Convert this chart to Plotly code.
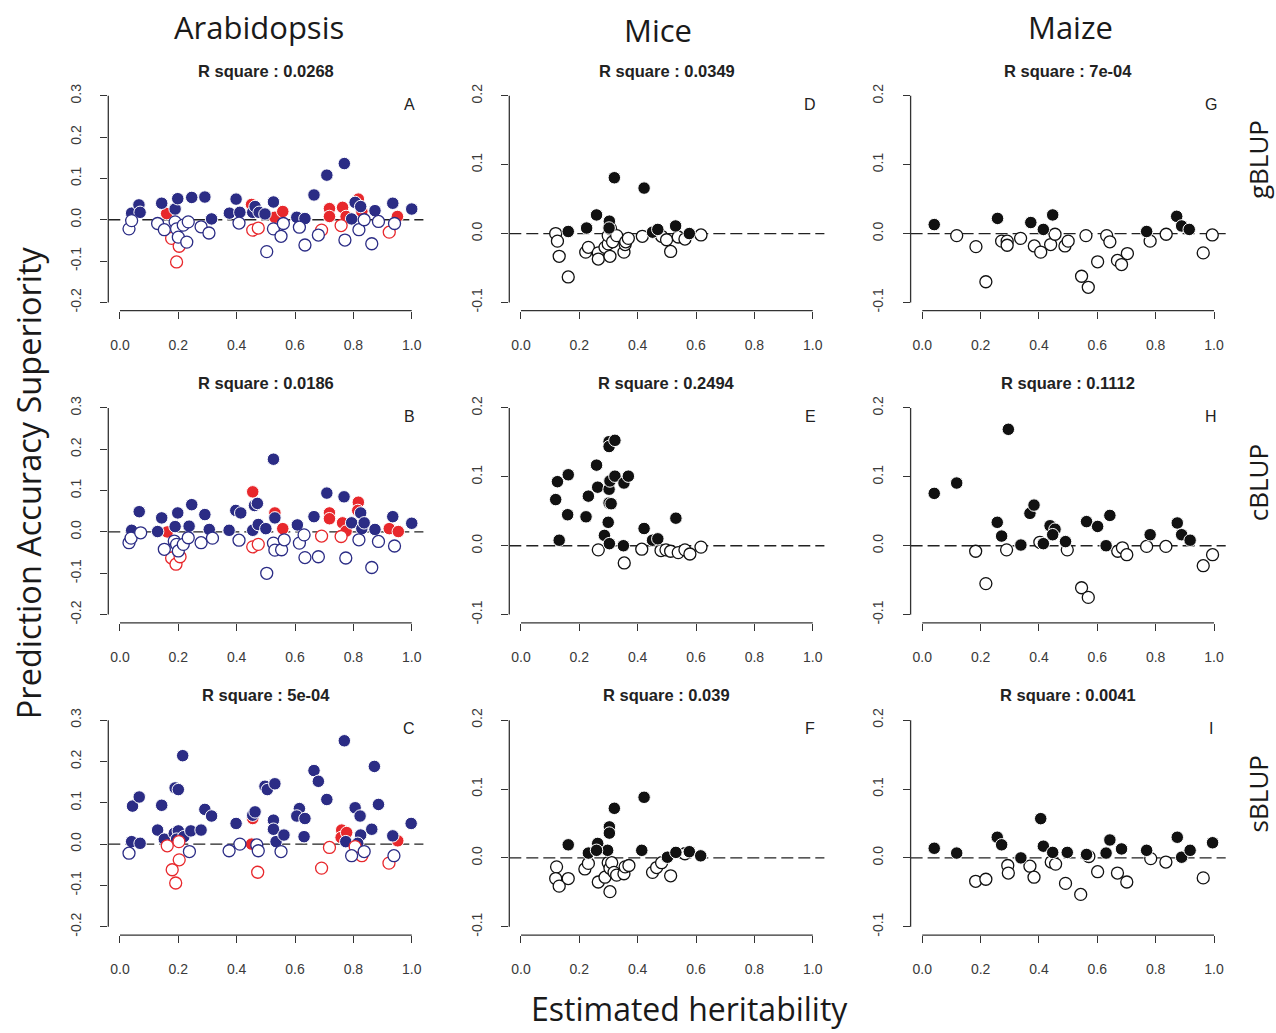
import plotly.graph_objects as go

# ---------------- data ----------------
species = ["Arabidopsis", "Mice", "Maize"]
methods = ["gBLUP", "cBLUP", "sBLUP"]
panel_letters = [["A", "D", "G"], ["B", "E", "H"], ["C", "F", "I"]]
r_square = [["0.0268", "0.0349", "7e-04"],
            ["0.0186", "0.2494", "0.1112"],
            ["5e-04", "0.039", "0.0041"]]
x_tick_vals = [0.0, 0.2, 0.4, 0.6, 0.8, 1.0]
x_tick_text = ["0.0", "0.2", "0.4", "0.6", "0.8", "1.0"]
ara_y_vals = [-0.2, -0.1, 0.0, 0.1, 0.2, 0.3]
ara_y_text = ["-0.2", "-0.1", "0.0", "0.1", "0.2", "0.3"]
mm_y_vals = [-0.1, 0.0, 0.1, 0.2]
mm_y_text = ["-0.1", "0.0", "0.1", "0.2"]
x_title = "Estimated heritability"
y_title = "Prediction Accuracy Superiority"

# Panel A (Arabidopsis, gBLUP)
A_blue_fill_h = [0.040, 0.065, 0.069, 0.143, 0.189, 0.198, 0.246, 0.291, 0.314, 0.375, 0.398, 0.411, 0.455, 0.463,
                 0.477, 0.497, 0.526, 0.606, 0.634, 0.665, 0.709, 0.769, 0.794, 0.806, 0.825, 0.874, 0.935, 1.000]
A_blue_fill_v = [0.016, 0.036, 0.018, 0.040, 0.026, 0.051, 0.054, 0.055, 0.002, 0.016, 0.050, 0.018, 0.018, 0.032,
                 0.018, 0.014, 0.043, 0.006, 0.003, 0.060, 0.108, 0.136, 0.002, 0.042, 0.032, 0.022, 0.040, 0.026]
A_red_fill_h = [0.160, 0.451, 0.531, 0.558, 0.718, 0.718, 0.763, 0.775, 0.817, 0.829, 0.951]
A_red_fill_v = [0.015, 0.037, 0.006, 0.020, 0.027, 0.008, 0.030, 0.008, 0.050, 0.020, 0.008]
A_blue_open_h = [0.031, 0.040, 0.129, 0.152, 0.189, 0.194, 0.200, 0.217, 0.234, 0.229, 0.278, 0.305, 0.408, 0.526,
                 0.560, 0.552, 0.503, 0.615, 0.634, 0.680, 0.771, 0.819, 0.837, 0.863, 0.886, 0.941]
A_blue_open_v = [-0.022, -0.002, -0.009, -0.024, -0.005, -0.022, -0.042, -0.013, -0.005, -0.054, -0.017, -0.032,
                 -0.008, -0.022, -0.009, -0.040, -0.077, -0.018, -0.061, -0.037, -0.049, -0.024, 0.000, -0.058,
                 -0.004, -0.009]
A_red_open_h = [0.177, 0.203, 0.194, 0.455, 0.474, 0.691, 0.758, 0.923]
A_red_open_v = [-0.045, -0.064, -0.102, -0.025, -0.020, -0.025, -0.014, -0.030]

# Panel B (Arabidopsis, cBLUP)
B_blue_fill_h = [0.040, 0.066, 0.129, 0.143, 0.189, 0.198, 0.237, 0.246, 0.291, 0.306, 0.374, 0.397, 0.414, 0.455,
                 0.461, 0.471, 0.474, 0.500, 0.526, 0.531, 0.608, 0.665, 0.709, 0.768, 0.794, 0.825, 0.829, 0.837,
                 0.874, 0.935, 1.000]
B_blue_fill_v = [0.004, 0.049, 0.001, 0.034, 0.013, 0.046, 0.014, 0.066, 0.042, 0.006, 0.004, 0.052, 0.046, 0.004,
                 0.064, 0.069, 0.018, 0.008, 0.176, 0.034, 0.017, 0.037, 0.094, 0.085, 0.022, 0.046, 0.008, 0.022,
                 0.006, 0.037, 0.021]
B_red_fill_h = [0.162, 0.455, 0.531, 0.558, 0.718, 0.718, 0.763, 0.775, 0.817, 0.815, 0.923, 0.954]
B_red_fill_v = [0.000, 0.097, 0.046, 0.008, 0.046, 0.032, 0.022, 0.002, 0.072, 0.052, 0.008, 0.001]
B_blue_open_h = [0.031, 0.038, 0.071, 0.152, 0.186, 0.194, 0.200, 0.217, 0.234, 0.278, 0.317, 0.408, 0.526, 0.531,
                 0.554, 0.563, 0.503, 0.615, 0.631, 0.634, 0.680, 0.774, 0.819, 0.863, 0.886, 0.941]
B_blue_open_v = [-0.026, -0.015, -0.002, -0.042, -0.022, -0.030, -0.046, -0.030, -0.014, -0.026, -0.015, -0.020,
                 -0.027, -0.044, -0.043, -0.019, -0.100, -0.027, -0.007, -0.062, -0.060, -0.063, -0.019, -0.086,
                 -0.023, -0.034]
B_red_open_h = [0.177, 0.192, 0.206, 0.455, 0.474, 0.691, 0.758]
B_red_open_v = [-0.063, -0.078, -0.060, -0.036, -0.030, -0.010, -0.011]

# Panel C (Arabidopsis, sBLUP)
C_blue_fill_h = [0.040, 0.043, 0.066, 0.069, 0.129, 0.143, 0.152, 0.186, 0.189, 0.200, 0.200, 0.194, 0.215, 0.219,
                 0.243, 0.278, 0.291, 0.314, 0.398, 0.455, 0.463, 0.497, 0.505, 0.531, 0.526, 0.526, 0.535, 0.562,
                 0.615, 0.606, 0.634, 0.631, 0.665, 0.680, 0.709, 0.769, 0.774, 0.806, 0.823, 0.825, 0.863, 0.872,
                 0.886, 0.935, 0.998, 0.815]
C_blue_fill_v = [0.006, 0.092, 0.114, 0.002, 0.034, 0.094, 0.012, 0.026, 0.136, 0.132, 0.032, 0.012, 0.214, 0.018,
                 0.032, 0.034, 0.084, 0.068, 0.050, 0.070, 0.078, 0.140, 0.132, 0.146, 0.058, 0.036, 0.006, 0.022,
                 0.086, 0.068, 0.062, 0.018, 0.178, 0.152, 0.108, 0.250, 0.006, 0.088, 0.068, 0.022, 0.036, 0.188,
                 0.096, 0.020, 0.050, 0.002]
C_red_fill_h = [0.455, 0.451, 0.760, 0.758, 0.777, 0.952]
C_red_fill_v = [0.062, 0.000, 0.034, 0.016, 0.028, 0.008]
C_blue_open_h = [0.031, 0.238, 0.374, 0.411, 0.469, 0.474, 0.552, 0.794, 0.837, 0.939]
C_blue_open_v = [-0.022, -0.018, -0.016, 0.000, -0.002, -0.016, -0.018, -0.028, -0.018, -0.028]
C_red_open_h = [0.162, 0.179, 0.191, 0.203, 0.202, 0.472, 0.691, 0.718, 0.829, 0.806, 0.922]
C_red_open_v = [-0.004, -0.062, -0.094, -0.038, 0.006, -0.068, -0.058, -0.008, -0.028, -0.006, -0.046]

# Panel D (Mice, gBLUP)
D_fill_h = [0.162, 0.225, 0.259, 0.303, 0.302, 0.320, 0.422, 0.451, 0.469, 0.530, 0.577]
D_fill_v = [0.003, 0.008, 0.027, 0.018, 0.008, 0.081, 0.066, 0.002, 0.006, 0.011, 0.000]
D_open_h = [0.119, 0.125, 0.131, 0.162, 0.222, 0.231, 0.265, 0.265, 0.288, 0.299, 0.305, 0.299, 0.307, 0.314,
            0.328, 0.353, 0.357, 0.359, 0.368, 0.416, 0.482, 0.499, 0.513, 0.539, 0.562, 0.617]
D_open_v = [0.000, -0.011, -0.033, -0.063, -0.027, -0.020, -0.028, -0.037, -0.020, -0.015, -0.033, -0.003, 0.007,
            -0.012, -0.003, -0.027, -0.016, -0.012, -0.007, -0.004, -0.004, -0.009, -0.026, -0.005, -0.008, -0.002]

# Panel E (Mice, cBLUP)
E_fill_h = [0.119, 0.125, 0.131, 0.162, 0.160, 0.223, 0.231, 0.259, 0.263, 0.286, 0.299, 0.302, 0.302, 0.302,
            0.302, 0.305, 0.303, 0.309, 0.322, 0.322, 0.353, 0.368, 0.351, 0.422, 0.451, 0.469, 0.531]
E_fill_v = [0.067, 0.093, 0.008, 0.103, 0.045, 0.042, 0.072, 0.117, 0.085, 0.015, 0.034, 0.151, 0.144, 0.082,
            0.062, 0.094, 0.003, 0.061, 0.153, 0.101, 0.091, 0.101, 0.000, 0.025, 0.008, 0.010, 0.040]
E_open_h = [0.265, 0.354, 0.414, 0.480, 0.497, 0.513, 0.539, 0.562, 0.579, 0.617]
E_open_v = [-0.006, -0.025, -0.005, -0.007, -0.006, -0.008, -0.010, -0.006, -0.012, -0.002]

# Panel F (Mice, sBLUP)
F_fill_h = [0.162, 0.231, 0.263, 0.297, 0.303, 0.303, 0.320, 0.414, 0.422, 0.502, 0.531, 0.577, 0.616, 0.259]
F_fill_v = [0.019, 0.007, 0.021, 0.011, 0.045, 0.036, 0.072, 0.011, 0.088, 0.001, 0.008, 0.009, 0.003, 0.011]
F_open_h = [0.122, 0.119, 0.131, 0.162, 0.219, 0.231, 0.265, 0.288, 0.299, 0.305, 0.305, 0.311, 0.319, 0.328,
            0.353, 0.357, 0.370, 0.451, 0.465, 0.482, 0.513, 0.562]
F_open_v = [-0.013, -0.030, -0.041, -0.030, -0.016, -0.008, -0.035, -0.028, -0.007, -0.015, -0.049, -0.007,
            -0.021, -0.025, -0.023, -0.013, -0.011, -0.021, -0.014, -0.007, -0.026, 0.006]

# Panel G (Maize, gBLUP)
G_fill_h = [0.041, 0.258, 0.372, 0.415, 0.447, 0.769, 0.872, 0.889, 0.915]
G_fill_v = [0.013, 0.022, 0.016, 0.006, 0.027, 0.003, 0.025, 0.011, 0.006]
G_open_h = [0.118, 0.184, 0.218, 0.272, 0.291, 0.291, 0.337, 0.384, 0.406, 0.440, 0.455, 0.489, 0.500, 0.546,
            0.561, 0.569, 0.601, 0.632, 0.643, 0.669, 0.683, 0.703, 0.781, 0.836, 0.963, 0.994]
G_open_v = [-0.003, -0.019, -0.070, -0.011, -0.011, -0.017, -0.007, -0.018, -0.027, -0.016, -0.001, -0.018,
            -0.011, -0.062, -0.003, -0.078, -0.041, -0.003, -0.012, -0.039, -0.045, -0.029, -0.011, -0.001,
            -0.028, -0.002]

# Panel H (Maize, cBLUP)
H_fill_h = [0.041, 0.118, 0.257, 0.272, 0.295, 0.338, 0.369, 0.383, 0.415, 0.438, 0.455, 0.447, 0.491, 0.563,
            0.601, 0.630, 0.643, 0.781, 0.874, 0.889, 0.918]
H_fill_v = [0.076, 0.091, 0.034, 0.014, 0.169, 0.001, 0.047, 0.059, 0.003, 0.029, 0.024, 0.016, 0.006, 0.035,
            0.028, 0.000, 0.044, 0.016, 0.033, 0.016, 0.008]
H_open_h = [0.183, 0.218, 0.289, 0.403, 0.497, 0.546, 0.569, 0.670, 0.686, 0.701, 0.769, 0.835, 0.963, 0.995]
H_open_v = [-0.008, -0.055, -0.006, 0.005, -0.006, -0.061, -0.075, -0.008, -0.003, -0.013, -0.001, -0.001,
            -0.029, -0.013]

# Panel I (Maize, sBLUP)
I_fill_h = [0.041, 0.118, 0.257, 0.272, 0.338, 0.406, 0.415, 0.447, 0.497, 0.563, 0.630, 0.643, 0.683, 0.769,
            0.874, 0.889, 0.918, 0.995]
I_fill_v = [0.014, 0.007, 0.030, 0.019, 0.000, 0.057, 0.017, 0.008, 0.008, 0.005, 0.007, 0.026, 0.013, 0.011,
            0.030, 0.001, 0.011, 0.022]
I_open_h = [0.183, 0.218, 0.293, 0.295, 0.369, 0.383, 0.442, 0.457, 0.491, 0.543, 0.571, 0.601, 0.669, 0.701,
            0.783, 0.835, 0.963]
I_open_v = [-0.034, -0.031, -0.011, -0.022, -0.012, -0.028, -0.006, -0.009, -0.037, -0.053, 0.002, -0.020,
            -0.022, -0.035, -0.001, -0.006, -0.029]

# ---------------- styling ----------------
W, H = 1276, 1033
BLUE = "#2B2C85"
RED = "#E8282C"
BLACK = "#111111"
AXC = "#333333"
TXT = "#3a3a3a"
TICKFONT = "Liberation Sans, Arial, sans-serif"
HEADFONT = "Open Sans, sans-serif"


def marker(color, filled):
    if filled:
        return dict(size=12.5, color=color, line=dict(color="white", width=1))
    return dict(size=12, color="white", line=dict(color=color, width=1.3))


panel_series = {
    "A": [(A_red_fill_h, A_red_fill_v, RED, True), (A_blue_fill_h, A_blue_fill_v, BLUE, True),
          (A_red_open_h, A_red_open_v, RED, False), (A_blue_open_h, A_blue_open_v, BLUE, False)],
    "B": [(B_red_fill_h, B_red_fill_v, RED, True), (B_blue_fill_h, B_blue_fill_v, BLUE, True),
          (B_red_open_h, B_red_open_v, RED, False), (B_blue_open_h, B_blue_open_v, BLUE, False)],
    "C": [(C_red_fill_h, C_red_fill_v, RED, True), (C_blue_fill_h, C_blue_fill_v, BLUE, True),
          (C_red_open_h, C_red_open_v, RED, False), (C_blue_open_h, C_blue_open_v, BLUE, False)],
    "D": [(D_open_h, D_open_v, BLACK, False), (D_fill_h, D_fill_v, BLACK, True)],
    "E": [(E_open_h, E_open_v, BLACK, False), (E_fill_h, E_fill_v, BLACK, True)],
    "F": [(F_open_h, F_open_v, BLACK, False), (F_fill_h, F_fill_v, BLACK, True)],
    "G": [(G_open_h, G_open_v, BLACK, False), (G_fill_h, G_fill_v, BLACK, True)],
    "H": [(H_open_h, H_open_v, BLACK, False), (H_fill_h, H_fill_v, BLACK, True)],
    "I": [(I_open_h, I_open_v, BLACK, False), (I_fill_h, I_fill_v, BLACK, True)],
}

# plot-region pixel boxes
col_px = [(108.3, 423.4), (509.3, 824.4), (910.6, 1225.7)]
row_px = [(84.0, 308.5), (398.0, 622.5), (712.0, 936.5)]
title_py = [67, 381, 695]
letter_py = [101, 415, 729]
letter_px = [409, 810, 1211]

fig = go.Figure()
layout = dict(
    width=W, height=H, margin=dict(l=0, r=0, t=0, b=0),
    paper_bgcolor="white", plot_bgcolor="white", showlegend=False,
    annotations=[], shapes=[],
)

for r in range(3):
    for c in range(3):
        k = r * 3 + c + 1
        xa = "xaxis" if k == 1 else f"xaxis{k}"
        ya = "yaxis" if k == 1 else f"yaxis{k}"
        xr = "x" if k == 1 else f"x{k}"
        yr = "y" if k == 1 else f"y{k}"
        if c == 0:
            yvals, ytext = ara_y_vals, ara_y_text
        else:
            yvals, ytext = mm_y_vals, mm_y_text
        ylo, yhi = yvals[0], yvals[-1]
        pad = 0.04 * (yhi - ylo)
        x0p, x1p = col_px[c]
        y0p, y1p = row_px[r]
        layout[xa] = dict(
            domain=[x0p / W, x1p / W], anchor=yr, range=[-0.04, 1.04],
            showgrid=False, zeroline=False, showline=False,
            ticks="outside", ticklen=7, tickwidth=1.2, tickcolor=AXC,
            tickvals=x_tick_vals, ticktext=x_tick_text,
            tickfont=dict(family=TICKFONT, size=14, color=TXT),
            ticklabelstandoff=14,
        )
        layout[ya] = dict(
            domain=[1 - y1p / H, 1 - y0p / H], anchor=xr, range=[ylo - pad, yhi + pad],
            showgrid=False, zeroline=False, showline=False,
            ticks="outside", ticklen=7, tickwidth=1.2, tickcolor=AXC,
            tickvals=yvals, ticktext=ytext, tickangle=-90,
            tickfont=dict(family=TICKFONT, size=14, color=TXT),
            ticklabelstandoff=14,
        )
        # axis lines spanning tick range (R style)
        layout["shapes"].append(dict(type="line", xref=xr, yref=f"{yr} domain",
                                     x0=x_tick_vals[0], x1=x_tick_vals[-1], y0=0, y1=0,
                                     line=dict(color=AXC, width=1.3)))
        layout["shapes"].append(dict(type="line", xref=f"{xr} domain", yref=yr,
                                     x0=0, x1=0, y0=ylo, y1=yhi,
                                     line=dict(color=AXC, width=1.3)))
        # dashed zero line
        layout["shapes"].append(dict(type="line", xref=f"{xr} domain", yref=yr,
                                     x0=0, x1=1, y0=0, y1=0, layer="below",
                                     line=dict(color="#222222", width=1.3, dash="12px,5px")))
        letter = panel_letters[r][c]
        for hx, vy, color, filled in panel_series[letter]:
            fig.add_trace(go.Scatter(x=hx, y=vy, xaxis=xr, yaxis=yr, mode="markers",
                                     marker=marker(color, filled), hoverinfo="x+y",
                                     cliponaxis=False))
        # title
        layout["annotations"].append(dict(
            text=f"<b>R square : {r_square[r][c]}</b>", xref="paper", yref="paper",
            x=(x0p + x1p) / 2 / W, y=1 - title_py[r] / H, showarrow=False,
            xanchor="center", yanchor="middle",
            font=dict(family=TICKFONT, size=16.5, color="#222222")))
        layout["annotations"].append(dict(
            text=letter, xref="paper", yref="paper",
            x=letter_px[c] / W, y=1 - letter_py[r] / H, showarrow=False,
            xanchor="center", yanchor="middle",
            font=dict(family=TICKFONT, size=16, color="#222222")))

# column headers
head_px = [(259, 23), (658, 26), (1070, 23)]
for name, (hx, hy) in zip(species, head_px):
    layout["annotations"].append(dict(
        text=name, xref="paper", yref="paper", x=hx / W, y=1 - hy / H,
        showarrow=False, xanchor="center", yanchor="middle",
        font=dict(family=HEADFONT, size=31, color="#1a1a1a")))

# row labels on the right
row_lab_py = [157, 482, 795]
for name, py in zip(methods, row_lab_py):
    layout["annotations"].append(dict(
        text=name, xref="paper", yref="paper", x=1258 / W, y=1 - py / H,
        showarrow=False, xanchor="center", yanchor="middle", textangle=-90,
        font=dict(family=HEADFONT, size=26, color="#1a1a1a")))

# overall axis titles
layout["annotations"].append(dict(
    text=y_title, xref="paper", yref="paper", x=28 / W, y=1 - 482 / H,
    showarrow=False, xanchor="center", yanchor="middle", textangle=-90,
    font=dict(family=HEADFONT, size=32.5, color="#1a1a1a")))
layout["annotations"].append(dict(
    text=x_title, xref="paper", yref="paper", x=689 / W, y=1 - 1010 / H,
    showarrow=False, xanchor="center", yanchor="middle",
    font=dict(family=HEADFONT, size=32, color="#1a1a1a")))

fig.update_layout(**layout)
fig.write_html("out.html")
